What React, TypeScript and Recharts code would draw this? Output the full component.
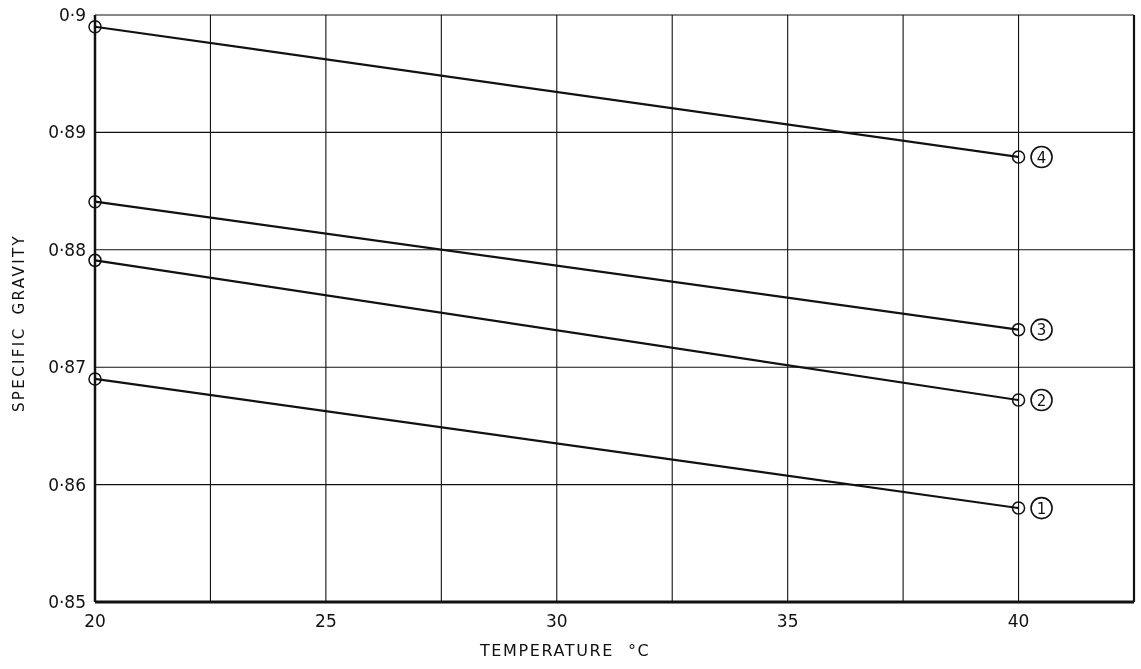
import React from 'react';
import { LineChart, Line, XAxis, YAxis, CartesianGrid, LabelList, Label } from 'recharts';

// Temperatures (deg C) at which gravity was measured
const temps = [20, 40];

// Specific gravity for each oil sample
const sample1 = [0.869, 0.858];
const sample2 = [0.8791, 0.8672];
const sample3 = [0.8841, 0.8732];
const sample4 = [0.899, 0.8879];

const seriesNames = ['1', '2', '3', '4'];

const xTicks = [20, 22.5, 25, 27.5, 30, 32.5, 35, 37.5, 40, 42.5];
const yTicks = [0.85, 0.86, 0.87, 0.88, 0.89, 0.9];

const FONT = '"DejaVu Sans", sans-serif';
const INK = '#111';

const data = temps.map((t, i) => ({
  t,
  s1: sample1[i],
  s2: sample2[i],
  s3: sample3[i],
  s4: sample4[i],
}));

// circled number written beside the last point of each line
const circledTag = (name: string) => (props: any) => {
  const { x, y, index } = props;
  if (index !== temps.length - 1) return null;
  const cx = x + 23;
  return (
    <g>
      <circle cx={cx} cy={y} r={10.5} fill="none" stroke={INK} strokeWidth={1.6} />
      <text x={cx} y={y + 5.5} textAnchor="middle" fontSize={15} fontFamily={FONT} fill={INK}>
        {name}
      </text>
    </g>
  );
};

const yTickFmt = (v: number) => (v === 0.9 ? '0·9' : '0·' + Math.round(v * 100));
const xTickFmt = (v: number) => (v % 5 === 0 ? String(v) : '');

const App = () => {
  const keys = ['s1', 's2', 's3', 's4'];
  return (
    <div style={{ position: 'fixed', left: 0, top: 0, width: 1141, height: 669, overflow: 'hidden' }}>
      <LineChart
        width={1141}
        height={669}
        data={data}
        margin={{ top: 15, right: 5, bottom: 0, left: 0 }}
        style={{ display: 'block' }}
      >
        <CartesianGrid stroke={INK} strokeWidth={1.1} horizontalValues={yTicks} verticalValues={xTicks} />
        <XAxis
          dataKey="t"
          type="number"
          domain={[20, 42.5]}
          ticks={xTicks}
          tickFormatter={xTickFmt}
          height={67}
          tickLine={false}
          axisLine={{ stroke: INK, strokeWidth: 3 }}
          tick={{ fontSize: 17, fontFamily: FONT, fill: INK, dy: 5 }}
          interval={0}
        >
          <Label
            content={(p: any) => (
              <text
                x={480}
                y={p.viewBox.y + 54}
                textAnchor="start"
                fontSize={16}
                fontFamily={FONT}
                fill={INK}
                letterSpacing={1.6}
              >
                <tspan>TEMPERATURE</tspan>
                <tspan dx={14}>°C</tspan>
              </text>
            )}
          />
        </XAxis>
        <YAxis
          type="number"
          domain={[0.85, 0.9]}
          ticks={yTicks}
          tickFormatter={yTickFmt}
          width={95}
          tickLine={false}
          axisLine={{ stroke: INK, strokeWidth: 2.5 }}
          tick={{ fontSize: 17, fontFamily: FONT, fill: INK, dx: -1 }}
          interval={0}
        >
          <Label
            content={() => (
              <text
                x={19}
                y={323}
                transform="rotate(-90 19 323)"
                textAnchor="middle"
                dominantBaseline="central"
                fontSize={15}
                fontFamily={FONT}
                fill={INK}
                letterSpacing={2.4}
              >
                <tspan>SPECIFIC</tspan>
                <tspan dx={12}>GRAVITY</tspan>
              </text>
            )}
          />
        </YAxis>
        {/* right-hand frame of the graph paper */}
        <YAxis
          yAxisId="frame"
          orientation="right"
          width={2}
          domain={[0, 1]}
          tick={false}
          tickLine={false}
          axisLine={{ stroke: INK, strokeWidth: 2.2 }}
        />
        {keys.map((k, i) => (
          <Line
            key={k}
            dataKey={k}
            type="linear"
            stroke={INK}
            strokeWidth={2.2}
            dot={{ r: 6, stroke: INK, strokeWidth: 1.5, fill: 'none' }}
            isAnimationActive={false}
          >
            <LabelList dataKey={k} content={circledTag(seriesNames[i])} />
          </Line>
        ))}
      </LineChart>
    </div>
  );
};

export default App;
